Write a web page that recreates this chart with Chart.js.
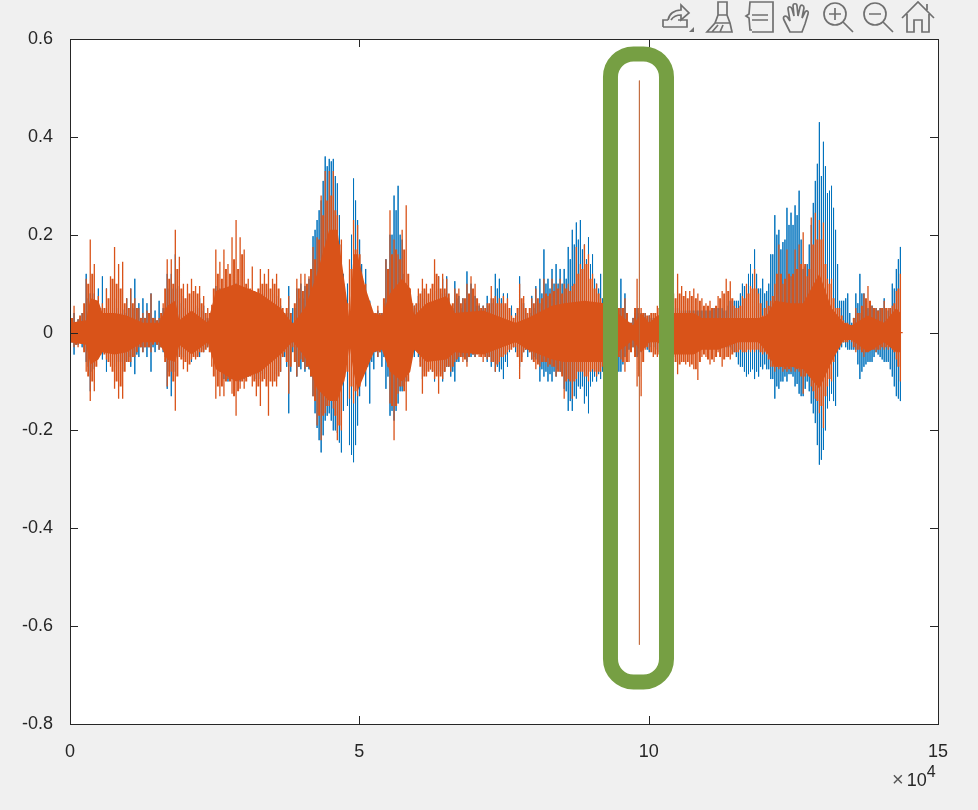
<!DOCTYPE html>
<html>
<head>
<meta charset="utf-8">
<title>Waveform</title>
<script src="https://cdn.jsdelivr.net/npm/chart.js@4/dist/chart.umd.js"></script>
<style>
  html, body { margin: 0; padding: 0; background: #f0f0f0; }
  #wrap { position: relative; width: 978px; height: 810px; overflow: hidden; }
  #wave { position: absolute; left: 0; top: 0; }
  #toolbar { position: absolute; left: 0; top: 0; }
  #expLabel { position: absolute; left: 892px; top: 768px; font: 18px "Liberation Sans", Arial, sans-serif; color: #262626; line-height: 22px; white-space: nowrap; }
  #expLabel .times { color: #555; font-size: 20px; margin-right: 3px; }
  #expLabel sup { font-size: 16px; position: relative; top: -9px; line-height: 0; vertical-align: baseline; }
</style>
</head>
<body>
<div id="wrap">
  <canvas id="wave" width="978" height="810"></canvas>
  <svg id="toolbar" width="978" height="36" fill="none" stroke="#707070" stroke-width="1.7">
    <path d="M663 27v-7h5M663 27h24v-7h-9"/>
    <path d="M668 20c1-6 6-10 13-10v-5l8 8-8 7v-5c-4 0-8 2-10 5"/>
    <path d="M689 32l5-5v5z" fill="#707070" stroke="none"/>
    <path d="M718 2h9v13h-9zM718 15l-3 8-8 9h25l-2-9-3-8M715 23h15M712 32l6-7M720 32l3-7"/>
    <path d="M752 2h-2l-1 12-3 2 3 2 1 12h2M752 2h21v30h-21M752 15h16M752 20h16"/>
    <path d="M790 32l-6-12c-2-4 2-5 4-2l2 3-2-12c0-3 3-3 4 0l2 7-1-10c0-3 4-3 4 0l1 10 2-9c1-3 4-2 4 1l-2 10 3-6c2-2 4-1 3 2l-3 10-3 8z"/>
    <circle cx="835" cy="14" r="11"/><path d="M843 22l10 10M829 14h12M835 8v12"/>
    <circle cx="875" cy="14" r="11"/><path d="M883 22l10 10M869 14h12"/>
    <path d="M902 18l16-16 16 16M907 14v18h7v-12h8v12h7v-18M927 4v6"/>
  </svg>
  <div id="expLabel"><span class="times">×</span>10<sup>4</sup></div>
</div>

<script>
// ---- DATA (signal envelope, one value per bin) ----
const binStep = 700;
const tailX = 143900;
const xTicks = [0, 50000, 100000, 150000];
const yTicks = [-0.8, -0.6, -0.4, -0.2, 0, 0.2, 0.4, 0.6];

const blueHi = [
  .027,.04,.027,.04,.12,.08,.08,.09,.115,.09,.06,.07,
  .04,.047,.07,.09,.11,.06,.07,.06,.08,.045,.065,.05,
  .12,.12,.16,.095,.075,.07,.075,.055,.07,.055,.03,.04,
  .095,.09,.08,.09,.095,.10,.095,.09,.08,.075,.08,.09,
  .08,.09,.08,.075,.055,.04,.095,.05,.09,.10,.095,.11,
  .197,.23,.27,.36,.355,.355,.305,.18,.075,.12,.315,.23,
  .14,.13,.065,.04,.045,.04,.15,.20,.28,.30,.19,.10,
  .085,.055,.075,.085,.085,.085,.085,.115,.11,.115,.055,.105,
  .075,.07,.125,.10,.075,.055,.055,.075,.07,.12,.11,.08,
  .08,.055,.04,.115,.06,.03,.075,.095,.11,.17,.11,.13,
  .14,.13,.13,.175,.21,.225,.23,.18,.195,.16,.10,.12,
  .075,.06,.06,.06,.11,.08,.02,.03,.05,.04,.04,.035,
  .03,.02,.03,.03,.03,.05,.05,.045,.045,.045,.045,.045,
  .045,.045,.045,.05,.05,.05,.045,.065,.065,.065,.10,.095,
  .14,.17,.09,.11,.085,.16,.24,.21,.185,.255,.245,.26,
  .29,.13,.14,.22,.31,.43,.39,.285,.30,.21,.065,.065,
  .08,.02,.08,.12,.08,.05,.055,.05,.05,.07,.045,.10,
  .13,.175
];
const blueLo = [
  -.03,-.045,-.025,-.03,-.06,-.12,-.075,-.05,-.055,-.08,-.05,-.07,
  -.06,-.08,-.06,-.07,-.085,-.05,-.04,-.05,-.08,-.04,-.035,-.04,
  -.115,-.13,-.08,-.05,-.05,-.055,-.06,-.05,-.05,-.04,-.03,-.04,
  -.06,-.08,-.095,-.10,-.095,-.095,-.10,-.095,-.09,-.08,-.095,-.095,
  -.095,-.095,-.10,-.095,-.08,-.05,-.165,-.04,-.09,-.075,-.08,-.075,
  -.13,-.195,-.245,-.18,-.165,-.20,-.205,-.245,-.075,-.23,-.265,-.19,
  -.055,-.11,-.145,-.075,-.05,-.07,-.115,-.17,-.18,-.145,-.12,-.10,
  -.07,-.05,-.05,-.095,-.08,-.075,-.10,-.08,-.10,-.07,-.09,-.10,
  -.06,-.05,-.06,-.05,-.05,-.04,-.04,-.06,-.07,-.08,-.08,-.095,
  -.07,-.03,-.04,-.07,-.04,-.05,-.055,-.055,-.10,-.09,-.10,-.10,
  -.09,-.08,-.115,-.16,-.16,-.135,-.115,-.145,-.165,-.10,-.10,-.095,
  -.08,-.08,-.08,-.08,-.08,-.05,-.035,-.03,-.05,-.04,-.03,-.04,
  -.02,-.035,-.04,-.04,-.04,-.04,-.04,-.035,-.035,-.035,-.035,-.035,
  -.03,-.03,-.03,-.03,-.03,-.03,-.03,-.03,-.04,-.065,-.07,-.09,
  -.08,-.095,-.09,-.075,-.075,-.095,-.135,-.115,-.10,-.10,-.085,-.11,
  -.125,-.13,-.10,-.145,-.185,-.27,-.24,-.155,-.125,-.15,-.035,-.02,
  -.035,-.035,-.035,-.095,-.07,-.06,-.06,-.04,-.05,-.06,-.06,-.09,
  -.13,-.14
];
const orangeHi = [
  .055,.055,.027,.04,.11,.19,.14,.075,.06,.09,.115,.175,
  .14,.145,.07,.09,.07,.05,.04,.045,.08,.03,.03,.06,
  .15,.15,.21,.155,.10,.10,.11,.095,.095,.075,.05,.057,
  .17,.145,.17,.14,.195,.23,.195,.17,.11,.135,.075,.13,
  .12,.13,.11,.12,.07,.04,.075,.02,.11,.12,.12,.115,
  .175,.195,.28,.33,.33,.33,.24,.19,.03,.15,.23,.22,
  .115,.10,.035,.04,.055,.04,.15,.25,.19,.16,.21,.26,
  .09,.055,.09,.11,.10,.09,.15,.115,.12,.11,.055,.09,
  .09,.07,.10,.115,.10,.06,.055,.06,.095,.075,.07,.075,
  .07,.035,.035,.10,.075,.04,.07,.09,.06,.11,.075,.11,
  .10,.11,.10,.10,.095,.175,.14,.18,.16,.12,.10,.07,
  .06,.06,.06,.05,.05,.07,.02,.03,.11,.05,.04,.035,
  .04,.055,.06,.06,.06,.08,.12,.095,.085,.085,.09,.08,
  .07,.06,.065,.05,.075,.085,.11,.105,.055,.05,.075,.10,
  .095,.13,.08,.035,.065,.065,.10,.18,.10,.17,.115,.17,
  .18,.205,.115,.235,.245,.23,.225,.11,.11,.05,.05,.025,
  .02,.013,.05,.04,.08,.095,.055,.05,.05,.065,.05,.055,
  .085,.12
];
const orangeLo = [
  -.025,-.03,-.03,-.02,-.08,-.14,-.12,-.05,-.04,-.055,-.07,-.115,
  -.135,-.135,-.06,-.06,-.05,-.03,-.04,-.03,-.04,-.015,-.035,-.03,
  -.11,-.08,-.16,-.05,-.075,-.08,-.055,-.055,-.04,-.04,-.03,-.07,
  -.135,-.13,-.13,-.095,-.125,-.17,-.115,-.115,-.09,-.11,-.13,-.15,
  -.095,-.17,-.11,-.11,-.08,-.04,-.125,-.03,-.09,-.055,-.075,-.07,
  -.13,-.19,-.22,-.165,-.15,-.155,-.22,-.20,-.04,-.135,-.145,-.13,
  -.07,-.055,-.04,-.03,-.05,-.03,-.04,-.145,-.22,-.125,-.11,-.16,
  -.055,-.03,-.04,-.125,-.09,-.075,-.095,-.125,-.095,-.07,-.08,-.06,
  -.05,-.06,-.07,-.04,-.05,-.05,-.06,-.055,-.06,-.08,-.06,-.05,
  -.04,-.035,-.03,-.095,-.04,-.03,-.055,-.075,-.07,-.06,-.07,-.07,
  -.09,-.08,-.135,-.095,-.135,-.095,-.08,-.09,-.10,-.075,-.09,-.08,
  -.07,-.07,-.07,-.07,-.055,-.08,-.06,-.03,-.11,-.13,-.035,-.035,
  -.05,-.05,-.05,-.05,-.05,-.05,-.085,-.06,-.065,-.07,-.075,-.097,
  -.05,-.05,-.065,-.06,-.04,-.07,-.05,-.055,-.04,-.04,-.04,-.04,
  -.04,-.04,-.035,-.045,-.045,-.07,-.08,-.075,-.08,-.08,-.08,-.08,
  -.08,-.125,-.08,-.11,-.135,-.165,-.195,-.11,-.10,-.035,-.03,-.02,
  -.02,-.02,-.04,-.035,-.05,-.04,-.035,-.04,-.035,-.035,-.035,-.035,
  -.055,-.10
];

// lower spikes sitting half a bin between the ones above
const blueMidHi = [
  .02,.02,.03,.04,.07,.06,.05,.04,.04,.05,.05,.05,
  .04,.04,.05,.05,.05,.03,.03,.035,.03,.025,.03,.05,
  .09,.09,.09,.06,.05,.05,.05,.05,.045,.03,.03,.05,
  .08,.07,.07,.08,.08,.08,.08,.07,.06,.06,.07,.07,
  .07,.06,.06,.05,.04,.04,.04,.05,.07,.07,.09,.13,
  .21,.25,.31,.34,.35,.32,.24,.12,.10,.20,.27,.19,
  .07,.05,.03,.03,.03,.06,.13,.20,.25,.20,.12,.08,
  .05,.05,.06,.07,.07,.08,.09,.08,.08,.07,.05,.07,
  .05,.06,.07,.07,.055,.045,.045,.055,.06,.09,.07,.055,
  .045,.03,.05,.06,.04,.04,.05,.06,.08,.10,.09,.10,
  .10,.10,.11,.15,.18,.19,.17,.15,.14,.11,.09,.07,
  .05,.05,.05,.05,.05,.04,.02,.04,.04,.035,.03,.03,
  .025,.025,.03,.03,.04,.05,.045,.045,.045,.045,.045,.045,
  .045,.045,.045,.05,.05,.045,.055,.065,.065,.08,.095,.12,
  .12,.12,.09,.08,.10,.16,.20,.17,.19,.22,.22,.24,
  .19,.135,.18,.265,.345,.32,.34,.29,.255,.14,.065,.07,
  .04,.03,.06,.08,.065,.05,.05,.045,.05,.05,.05,.09,
  .15
];
const blueMidLo = [
  -.02,-.025,-.02,-.035,-.07,-.08,-.05,-.04,-.04,-.05,-.06,-.06,
  -.06,-.06,-.05,-.05,-.045,-.03,-.03,-.03,-.03,-.025,-.03,-.05,
  -.08,-.08,-.05,-.045,-.05,-.05,-.045,-.045,-.035,-.03,-.03,-.05,
  -.07,-.08,-.08,-.08,-.09,-.09,-.08,-.08,-.08,-.08,-.085,-.085,
  -.085,-.085,-.085,-.08,-.05,-.07,-.08,-.06,-.07,-.06,-.07,-.09,
  -.165,-.22,-.21,-.17,-.18,-.20,-.225,-.16,-.15,-.25,-.23,-.13,
  -.055,-.07,-.06,-.04,-.04,-.05,-.09,-.16,-.16,-.12,-.11,-.085,
  -.04,-.03,-.06,-.08,-.075,-.08,-.085,-.085,-.08,-.07,-.08,-.06,
  -.045,-.05,-.05,-.045,-.04,-.04,-.045,-.05,-.06,-.07,-.075,-.06,
  -.04,-.03,-.05,-.05,-.035,-.04,-.05,-.06,-.075,-.08,-.085,-.08,
  -.075,-.085,-.12,-.14,-.13,-.11,-.11,-.13,-.11,-.09,-.085,-.08,
  -.08,-.08,-.08,-.08,-.065,-.04,-.03,-.04,-.045,-.035,-.035,-.03,
  -.03,-.04,-.04,-.04,-.04,-.04,-.035,-.035,-.035,-.035,-.035,-.03,
  -.03,-.03,-.03,-.03,-.03,-.03,-.03,-.035,-.05,-.07,-.08,-.085,
  -.075,-.08,-.07,-.065,-.075,-.095,-.11,-.10,-.09,-.085,-.09,-.105,
  -.13,-.115,-.12,-.165,-.23,-.26,-.20,-.14,-.14,-.09,-.03,-.03,
  -.035,-.035,-.065,-.08,-.065,-.06,-.05,-.045,-.055,-.06,-.075,-.11,
  -.135
];
const orangeMidHi = [
  .03,.02,.035,.06,.10,.12,.06,.05,.05,.07,.11,.10,
  .09,.06,.05,.06,.05,.03,.03,.04,.03,.025,.04,.09,
  .11,.10,.13,.09,.07,.08,.085,.08,.06,.04,.04,.09,
  .12,.11,.13,.12,.15,.13,.16,.10,.09,.085,.09,.10,
  .10,.09,.10,.09,.05,.05,.04,.06,.09,.085,.10,.13,
  .15,.19,.24,.27,.28,.25,.18,.10,.06,.13,.17,.16,
  .08,.05,.03,.04,.04,.07,.13,.16,.17,.15,.17,.12,
  .06,.06,.08,.09,.08,.10,.12,.09,.09,.08,.06,.08,
  .06,.07,.08,.09,.07,.05,.05,.06,.07,.06,.06,.06,
  .05,.03,.05,.07,.05,.05,.06,.07,.07,.08,.08,.085,
  .09,.08,.09,.085,.10,.12,.13,.14,.11,.09,.08,.06,
  .05,.05,.05,.05,.05,.04,.02,.05,.05,.04,.035,.04,
  .04,.05,.05,.05,.05,.07,.08,.075,.07,.075,.07,.065,
  .055,.055,.05,.055,.07,.08,.085,.07,.05,.055,.07,.08,
  .09,.09,.06,.05,.055,.075,.12,.12,.11,.12,.12,.13,
  .14,.14,.13,.18,.19,.19,.14,.10,.07,.05,.035,.02,
  .015,.03,.04,.055,.07,.065,.05,.045,.05,.05,.05,.06,
  .09
];
const orangeMidLo = [
  -.02,-.025,-.02,-.04,-.09,-.10,-.07,-.045,-.045,-.06,-.08,-.10,
  -.11,-.08,-.06,-.05,-.04,-.03,-.03,-.03,-.025,-.025,-.03,-.06,
  -.09,-.10,-.09,-.055,-.06,-.065,-.05,-.05,-.04,-.035,-.04,-.09,
  -.11,-.11,-.10,-.10,-.13,-.12,-.10,-.10,-.09,-.10,-.11,-.10,
  -.11,-.10,-.10,-.09,-.05,-.06,-.07,-.06,-.07,-.06,-.07,-.09,
  -.14,-.17,-.17,-.15,-.14,-.17,-.19,-.10,-.08,-.11,-.12,-.11,
  -.06,-.05,-.035,-.035,-.04,-.035,-.07,-.15,-.15,-.11,-.12,-.10,
  -.04,-.03,-.07,-.09,-.08,-.08,-.09,-.09,-.08,-.07,-.07,-.055,
  -.05,-.055,-.05,-.045,-.045,-.05,-.05,-.05,-.06,-.065,-.05,-.045,
  -.035,-.03,-.05,-.06,-.035,-.04,-.06,-.065,-.06,-.06,-.065,-.07,
  -.08,-.09,-.10,-.10,-.10,-.08,-.08,-.09,-.08,-.08,-.08,-.07,
  -.06,-.06,-.06,-.05,-.06,-.06,-.04,-.05,-.09,-.06,-.03,-.04,
  -.045,-.045,-.045,-.045,-.045,-.06,-.065,-.06,-.06,-.065,-.075,-.06,
  -.045,-.055,-.055,-.05,-.05,-.055,-.05,-.045,-.04,-.035,-.04,-.035,
  -.035,-.035,-.04,-.04,-.055,-.07,-.07,-.07,-.075,-.075,-.07,-.075,
  -.09,-.09,-.09,-.12,-.14,-.15,-.13,-.095,-.06,-.03,-.02,-.02,
  -.015,-.03,-.035,-.04,-.04,-.035,-.035,-.035,-.03,-.03,-.03,-.04,
  -.07
];

// solid middle of the orange trace
const coreBins = [0,4,5,7,8,11,14,18,22,24,26,27,30,34,36,41,47,52,55,58,61,64,66,68,69,70,71,73,75,77,79,82,84,85,88,93,95,102,110,113,119,122,127,132,136,139,141,143,145,149,154,156,160,165,170,172,174,178,181,185,188,191,193,197,201,204,205];
const coreHi = [.02,.025,.07,.065,.04,.04,.035,.02,.02,.055,.065,.025,.045,.02,.085,.10,.08,.05,.018,.05,.12,.21,.21,.09,.025,.16,.16,.09,.04,.035,.08,.11,.09,.035,.06,.075,.04,.045,.02,.03,.055,.06,.065,.06,.035,.015,.04,.02,.035,.04,.04,.03,.03,.03,.03,.035,.065,.06,.06,.12,.05,.02,.015,.035,.02,.05,.04];
const coreLo = [-.02,-.025,-.065,-.055,-.04,-.045,-.04,-.02,-.02,-.055,-.06,-.025,-.045,-.02,-.075,-.10,-.08,-.045,-.018,-.05,-.115,-.14,-.14,-.09,-.025,-.08,-.12,-.08,-.04,-.035,-.08,-.10,-.08,-.035,-.06,-.055,-.04,-.045,-.02,-.035,-.055,-.06,-.06,-.06,-.035,-.015,-.04,-.02,-.02,-.045,-.045,-.035,-.035,-.02,-.02,-.04,-.07,-.07,-.075,-.115,-.06,-.015,-.015,-.04,-.02,-.04,-.04];

// the single tall click and the highlight box round it, in axis units
const clickX = 98400;
const clickHi = 0.515;
const clickLo = -0.638;
const boxX = [93400, 103080];
const boxY = [0.5695, -0.714];

// ---- BUILD THE TRACES ----
function spikePoints(hi, lo, offset = 0) {
  const pts = [];
  hi.forEach((h, i) => {
    const x = (i + offset) * binStep;
    pts.push({ x, y: 0 }, { x, y: h }, { x, y: lo[i] }, { x, y: 0 });
  });
  return pts;
}

function corePoints(values) {
  return coreBins.map((b, i) => ({ x: b * binStep, y: values[i] }));
}

const orangeTrace = spikePoints(orangeHi, orangeLo);
orangeTrace.push({ x: tailX, y: 0 });

// ---- PLUGINS ----
const axisColor = '#262626';

const whiteArea = {
  id: 'whiteArea',
  beforeDraw(chart) {
    const { ctx, chartArea: a } = chart;
    ctx.save();
    ctx.fillStyle = '#ffffff';
    ctx.fillRect(a.left, a.top, a.right - a.left, a.bottom - a.top);
    ctx.restore();
  }
};

// MATLAB style box with inward ticks on all four sides
const boxTicks = {
  id: 'boxTicks',
  afterDatasetsDraw(chart) {
    const { ctx, chartArea: a, scales } = chart;
    const len = 8;
    ctx.save();
    ctx.strokeStyle = axisColor;
    ctx.lineWidth = 1;
    ctx.beginPath();
    xTicks.forEach(v => {
      const x = Math.round(scales.x.getPixelForValue(v)) + 0.5;
      ctx.moveTo(x, a.bottom); ctx.lineTo(x, a.bottom - len);
      ctx.moveTo(x, a.top); ctx.lineTo(x, a.top + len);
    });
    yTicks.forEach(v => {
      const y = Math.round(scales.y.getPixelForValue(v)) + 0.5;
      ctx.moveTo(a.left, y); ctx.lineTo(a.left + len, y);
      ctx.moveTo(a.right, y); ctx.lineTo(a.right - len, y);
    });
    ctx.stroke();
    ctx.strokeRect(a.left + 0.5, a.top + 0.5, a.right - a.left, a.bottom - a.top);
    ctx.restore();
  }
};

// Green rounded highlight drawn on top of the trace
const highlightBox = {
  id: 'highlightBox',
  afterDraw(chart) {
    const { ctx, scales } = chart;
    const x0 = scales.x.getPixelForValue(boxX[0]);
    const x1 = scales.x.getPixelForValue(boxX[1]);
    const y0 = scales.y.getPixelForValue(boxY[0]);
    const y1 = scales.y.getPixelForValue(boxY[1]);
    ctx.save();
    ctx.strokeStyle = '#769f43';
    ctx.lineWidth = 15;
    ctx.beginPath();
    ctx.roundRect(x0, y0, x1 - x0, y1 - y0, 23);
    ctx.stroke();
    ctx.restore();
  }
};

// ---- CHART ----
const lineStyle = { pointRadius: 0, borderWidth: 1, tension: 0, fill: false };

new Chart(document.getElementById('wave'), {
  type: 'line',
  data: {
    datasets: [
      { ...lineStyle, data: [{ x: clickX, y: clickHi }, { x: clickX, y: clickLo }], borderColor: '#c2683a', borderWidth: 0.7, order: 0 },
      { ...lineStyle, data: corePoints(coreHi), borderColor: '#D95319', backgroundColor: '#D95319', borderWidth: 0, fill: '+1', order: 1 },
      { ...lineStyle, data: corePoints(coreLo), borderColor: '#D95319', borderWidth: 0, order: 1 },
      { ...lineStyle, data: orangeTrace, borderColor: '#D95319', borderWidth: 1.3, order: 2 },
      { ...lineStyle, data: spikePoints(orangeMidHi, orangeMidLo, 0.5), borderColor: '#D95319', borderWidth: 2, order: 2 },
      { ...lineStyle, data: spikePoints(blueHi, blueLo), borderColor: '#0072BD', order: 3 },
      { ...lineStyle, data: spikePoints(blueMidHi, blueMidLo, 0.5), borderColor: '#0072BD', order: 3 }
    ]
  },
  options: {
    responsive: false,
    animation: false,
    events: [],
    layout: { padding: { top: 39, right: 40 } },
    plugins: { legend: { display: false }, tooltip: { enabled: false } },
    scales: {
      x: {
        type: 'linear',
        min: 0,
        max: 150000,
        afterBuildTicks: axis => { axis.ticks = xTicks.map(value => ({ value })); },
        afterFit: axis => { axis.height = 86; },
        grid: { display: false },
        border: { display: false },
        ticks: {
          maxRotation: 0,
          padding: 9,
          color: axisColor,
          font: { family: '"Liberation Sans", Arial, sans-serif', size: 18 },
          callback: v => String(v / 10000)
        }
      },
      y: {
        min: -0.8,
        max: 0.6,
        afterBuildTicks: axis => { axis.ticks = yTicks.map(value => ({ value })); },
        afterFit: axis => { axis.width = 70; },
        grid: { display: false },
        border: { display: false },
        ticks: {
          padding: 9,
          color: axisColor,
          font: { family: '"Liberation Sans", Arial, sans-serif', size: 18 },
          callback: v => String(Math.round(v * 10) / 10)
        }
      }
    }
  },
  plugins: [whiteArea, boxTicks, highlightBox]
});
</script>
</body>
</html>
